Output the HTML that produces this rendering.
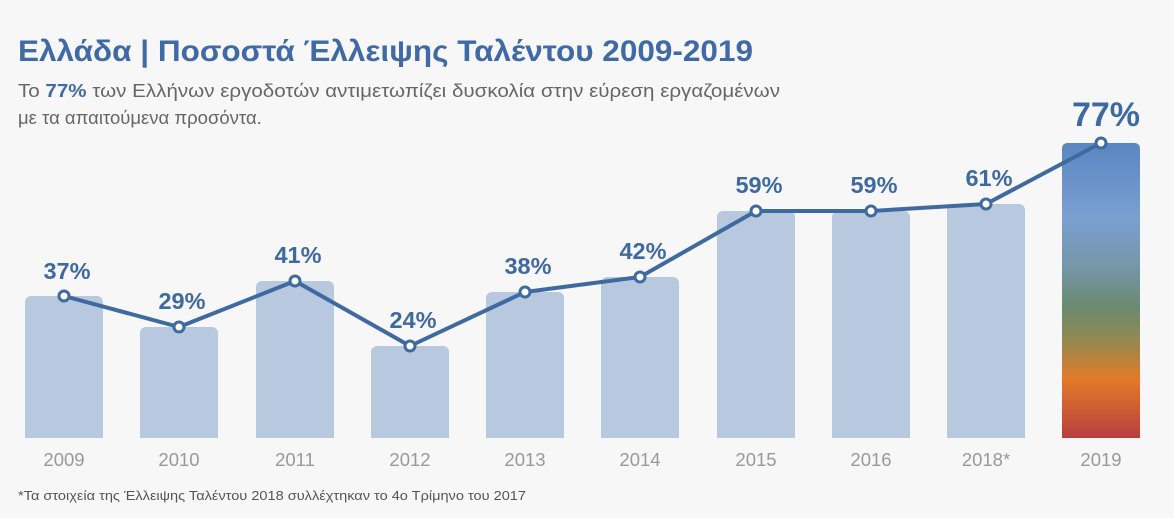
<!DOCTYPE html>
<html><head><meta charset="utf-8"><style>
html,body{margin:0;padding:0;background:#f7f7f7;}
svg{display:block;font-family:"Liberation Sans",sans-serif;}
</style></head><body>
<svg width="1174" height="518" viewBox="0 0 1174 518">
<defs>
<linearGradient id="g" x1="0" y1="0" x2="0" y2="1">
<stop offset="0" stop-color="#5a85c0"/>
<stop offset="0.25" stop-color="#7aa0d2"/>
<stop offset="0.42" stop-color="#7597a8"/>
<stop offset="0.55" stop-color="#6a8a72"/>
<stop offset="0.66" stop-color="#8e8a52"/>
<stop offset="0.8" stop-color="#e37b28"/>
<stop offset="1" stop-color="#b83f3f"/>
</linearGradient>
</defs>
<rect width="1174" height="518" fill="#f7f7f7"/>
<text x="18" y="61" font-size="30" font-weight="bold" fill="#3f6aa5" textLength="735" lengthAdjust="spacingAndGlyphs">Ελλάδα | Ποσοστά Έλλειψης Ταλέντου 2009-2019</text>
<text x="18" y="97" font-size="18.5" fill="#666" textLength="762" lengthAdjust="spacingAndGlyphs">Το <tspan font-weight="bold" fill="#3f6aa5">77%</tspan> των Ελλήνων εργοδοτών αντιμετωπίζει δυσκολία στην εύρεση εργαζομένων</text>
<text x="18" y="124" font-size="18.5" fill="#666">με τα απαιτούμενα προσόντα.</text>
<g fill="#b8c8df">
<rect x="25" y="296" width="78" height="142" rx="6"/><rect x="25" y="420" width="78" height="18"/>
<rect x="140" y="327" width="78" height="111" rx="6"/><rect x="140" y="420" width="78" height="18"/>
<rect x="256" y="281" width="78" height="157" rx="6"/><rect x="256" y="420" width="78" height="18"/>
<rect x="371" y="346" width="78" height="92" rx="6"/><rect x="371" y="420" width="78" height="18"/>
<rect x="486" y="292" width="78" height="146" rx="6"/><rect x="486" y="420" width="78" height="18"/>
<rect x="601" y="277" width="78" height="161" rx="6"/><rect x="601" y="420" width="78" height="18"/>
<rect x="717" y="211" width="78" height="227" rx="6"/><rect x="717" y="420" width="78" height="18"/>
<rect x="832" y="211" width="78" height="227" rx="6"/><rect x="832" y="420" width="78" height="18"/>
<rect x="947" y="204" width="78" height="234" rx="6"/><rect x="947" y="420" width="78" height="18"/>
</g>
<path d="M1062,438 L1062,149 Q1062,143 1068,143 L1134,143 Q1140,143 1140,149 L1140,438 Z" fill="url(#g)"/>
<polyline fill="none" stroke="#3f6aa0" stroke-width="4" stroke-linejoin="round" points="64,296 179,327 295,281 410,346 525,292 640,277 756,211 871,211 986,204 1101,143"/>
<g fill="#fff" stroke="#3f6aa0" stroke-width="3">
<circle cx="64" cy="296" r="5"/><circle cx="179" cy="327" r="5"/><circle cx="295" cy="281" r="5"/><circle cx="410" cy="346" r="5"/><circle cx="525" cy="292" r="5"/><circle cx="640" cy="277" r="5"/><circle cx="756" cy="211" r="5"/><circle cx="871" cy="211" r="5"/><circle cx="986" cy="204" r="5"/><circle cx="1101" cy="143" r="5"/>
</g>
<g font-size="23.5" font-weight="bold" fill="#3f6aa0" text-anchor="middle">
<text x="67" y="279">37%</text><text x="182" y="309">29%</text><text x="298" y="263">41%</text><text x="413" y="328">24%</text><text x="528" y="274">38%</text><text x="643" y="259">42%</text><text x="759" y="193">59%</text><text x="874" y="193">59%</text><text x="989" y="186">61%</text>
<text x="1106" y="126" font-size="34">77%</text>
</g>
<g font-size="18.5" fill="#999" text-anchor="middle">
<text x="64" y="466">2009</text><text x="179" y="466">2010</text><text x="295" y="466">2011</text><text x="410" y="466">2012</text><text x="525" y="466">2013</text><text x="640" y="466">2014</text><text x="756" y="466">2015</text><text x="871" y="466">2016</text><text x="986" y="466">2018*</text><text x="1101" y="466">2019</text>
</g>
<text x="18" y="500" font-size="12.5" fill="#555" textLength="508" lengthAdjust="spacingAndGlyphs">*Τα στοιχεία της Έλλειψης Ταλέντου 2018 συλλέχτηκαν το 4ο Τρίμηνο του 2017</text>
</svg>
</body></html>
